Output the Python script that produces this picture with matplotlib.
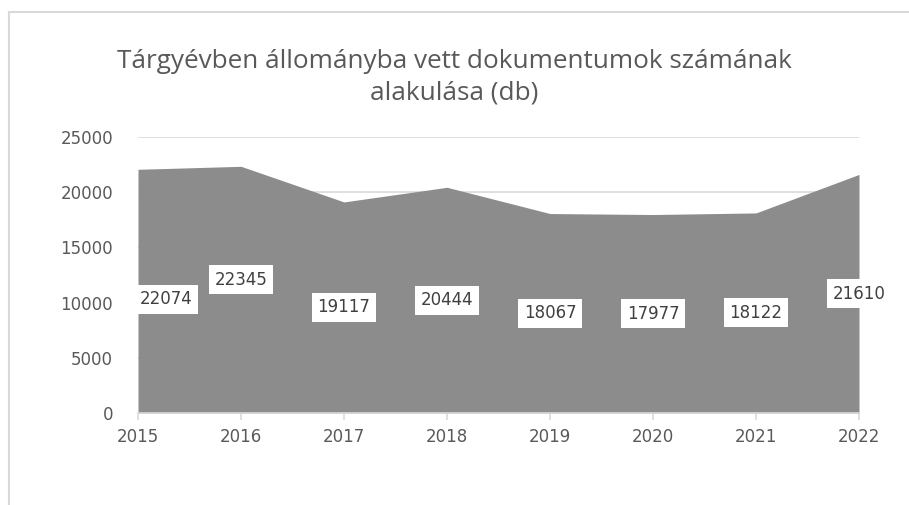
import matplotlib
matplotlib.use("Agg")
import matplotlib.pyplot as plt
from matplotlib.lines import Line2D

years = [2015, 2016, 2017, 2018, 2019, 2020, 2021, 2022]
values = [22074, 22345, 19117, 20444, 18067, 17977, 18122, 21610]
yticks = [0, 5000, 10000, 15000, 20000, 25000]
title_lines = ["Tárgyévben állományba vett dokumentumok számának", "alakulása (db)"]

plt.rcParams['font.family'] = ['DejaVu Sans']
txt = '#595959'
grid = '#d9d9d9'

fig = plt.figure(figsize=(9.09, 5.05), dpi=100)
ax = fig.add_axes([138/909, 1-413/505, (859-138)/909, (413-137)/505])

xs = list(range(len(years)))
ax.fill_between(xs, 0, values, color='#8c8c8c', linewidth=0, zorder=2)
ax.set_xlim(0, len(years)-1)
ax.set_ylim(0, 25000)
ax.set_yticks(yticks)
ax.set_yticklabels([str(t) for t in yticks])
ax.set_xticks(xs)
ax.set_xticklabels([str(y) for y in years])
for t in yticks[1:]:
    ax.axhline(t, color=grid, lw=1.2, zorder=1)
for s in ['top', 'right', 'left']:
    ax.spines[s].set_visible(False)
ax.spines['bottom'].set_color(grid)
ax.spines['bottom'].set_linewidth(1.2)
ax.spines['bottom'].set_zorder(3)
ax.tick_params(axis='y', length=0, pad=18, labelsize=12, labelcolor=txt)
ax.tick_params(axis='x', length=5, color=grid, width=1.2, pad=6, labelsize=12, labelcolor=txt)

# label placement offsets (pixels) mimicking Excel's label collision handling
offsets = {0: (28, -8), 1: (0, 10)}
for i, v in enumerate(values):
    dx, dy = offsets.get(i, (0, 0))
    ax.annotate(str(v), xy=(i, v / 2), xytext=(dx, dy), textcoords='offset pixels',
                ha='center', va='center', fontsize=12, color='#404040', zorder=5,
                bbox=dict(facecolor='white', edgecolor='none', pad=4))

fig.text(0.5, 1 - 68/505, title_lines[0], ha='center', va='baseline',
         fontsize=18.8, color=txt, family=['Open Sans', 'DejaVu Sans'])
fig.text(0.5, 1 - 100/505, title_lines[1], ha='center', va='baseline',
         fontsize=18.8, color=txt, family=['Open Sans', 'DejaVu Sans'])

fig.add_artist(Line2D([8.5/909, 1], [1-11.5/505, 1-11.5/505], color='#d9d9d9', lw=1.5,
                      transform=fig.transFigure))
fig.add_artist(Line2D([8.5/909, 8.5/909], [0, 1-11.5/505], color='#d9d9d9', lw=1.5,
                      transform=fig.transFigure))

fig.savefig('out.png', dpi=100)
